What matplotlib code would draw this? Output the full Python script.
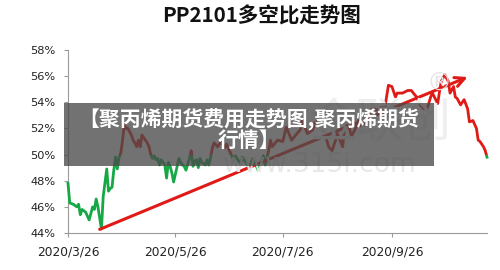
import datetime as dt
import matplotlib
matplotlib.use("Agg")
import matplotlib.pyplot as plt
import matplotlib.dates as mdates
from matplotlib.patches import Rectangle
from matplotlib.ticker import FuncFormatter

plt.rcParams["font.family"] = ["DejaVu Sans", "Noto Sans CJK SC"]

START = dt.date(2020, 3, 26)
# calendar-day offsets from START and long/short ratio (%)
days = [0, 1, 3, 5, 6, 7, 8, 10, 11, 12, 14, 15, 16, 17, 19, 20, 22, 23, 24, 25,
        26, 27, 28, 29, 30, 31, 32, 33, 34, 36, 37, 38, 39, 40, 41, 42, 44, 45, 46, 47,
        48, 49, 50, 51, 52, 53, 55, 56, 57, 58, 59, 60, 62, 63, 64, 65, 66, 67, 69, 70,
        71, 72, 73, 74, 75, 76, 78, 79, 80, 81, 82, 83, 85, 87, 89, 90, 92, 94, 95, 98,
        99, 101, 103, 105, 108, 111, 112, 114, 115, 116, 119, 122, 124, 127, 130, 132, 133, 136, 139, 140,
        142, 144, 146, 148, 150, 152, 153, 156, 157, 159, 161, 163, 165, 167, 169, 170, 173, 175, 178, 180,
        182, 184, 186, 187, 190, 193, 195, 198, 200, 202, 204, 206, 207, 210, 211, 212, 214, 216, 217, 219,
        220, 221, 223, 225, 227, 228, 230, 232, 233, 234, 236, 237, 238]
ratio = [47.8, 46.3, 46.2, 46.0, 46.2, 45.4, 45.8, 45.6, 45.3, 45.0, 46.0, 45.8, 46.6, 46.0, 44.3, 46.8, 48.9, 47.2, 47.4, 47.5,
         48.8, 49.8, 48.9, 49.8, 50.1, 51.1, 52.3, 52.0, 52.0, 51.5, 51.1, 50.9, 50.6, 51.1, 50.6, 51.5, 51.1, 50.9, 50.6, 50.0,
         49.7, 49.9, 49.6, 49.7, 49.2, 49.6, 49.2, 48.2, 49.4, 49.1, 48.6, 47.9, 49.1, 49.7, 49.4, 49.2, 49.1, 48.8, 49.7, 50.3,
         49.1, 49.5, 49.6, 49.0, 49.7, 49.4, 49.2, 49.6, 49.2, 49.8, 50.5, 50.9, 50.6, 51.0, 50.5, 50.8, 50.2, 49.6, 49.9, 49.3,
         49.8, 49.4, 49.0, 49.7, 48.8, 49.9, 49.2, 50.3, 51.1, 50.6, 51.1, 51.0, 52.1, 51.1, 51.6, 51.9, 52.6, 51.6, 51.9, 52.4,
         52.6, 52.1, 51.6, 50.6, 50.3, 51.1, 51.6, 50.6, 51.9, 52.4, 51.4, 51.9, 52.6, 52.1, 52.6, 52.8, 53.6, 53.4, 53.6, 53.6,
         55.3, 55.2, 54.4, 54.7, 54.7, 54.9, 54.9, 54.4, 53.8, 53.5, 53.5, 54.4, 54.7, 53.9, 54.8, 55.6, 56.1, 55.6, 54.7, 55.2,
         54.4, 54.3, 53.8, 54.2, 53.5, 52.5, 52.6, 52.0, 51.1, 51.0, 50.6, 50.3, 49.8]
trend_days = [18, 227]
trend_vals = [44.28, 55.93]
x_ticks = ["2020-03-26", "2020-05-26", "2020-07-26", "2020-09-26"]
y_ticks = [44, 46, 48, 50, 52, 54, 56, 58]

RED = "#e01a16"
GREEN = "#17a846"
AXIS = "#9a9a9a"


def to_date(d):
    return START + dt.timedelta(days=d)


def main():
    fig = plt.figure(figsize=(5.0, 2.7), dpi=100)
    ax = fig.add_axes([0.136, 0.137, 0.838, 0.678])

    dates = [to_date(d) for d in days]

    # watermark
    fig.text(0.64, 0.39, "www.315i.com", fontsize=19, color="#e8e8e8", ha="center", va="center", zorder=0)
    fig.text(0.76, 0.54, "金联创", fontsize=34, color="#eeeeee", ha="center", va="center",
             family=["Noto Sans CJK SC"], zorder=0)
    fig.text(0.878, 0.69, "®", fontsize=18, color="#e4e4e4", ha="center", va="center", zorder=0)

    # above 50% red, below green
    red_line, = ax.plot(dates, ratio, color=RED, linewidth=2.0, zorder=3)
    green_line, = ax.plot(dates, ratio, color=GREEN, linewidth=2.0, zorder=3)
    big = 1e6
    red_clip = Rectangle((-big, 50), 2 * big, big, transform=ax.transData)
    green_clip = Rectangle((-big, 50 - big), 2 * big, big, transform=ax.transData)
    red_line.set_clip_path(red_clip)
    green_line.set_clip_path(green_clip)

    t0, t1 = to_date(trend_days[0]), to_date(trend_days[1])
    ax.annotate("", xy=(mdates.date2num(t1), trend_vals[1]), xytext=(mdates.date2num(t0), trend_vals[0]),
                arrowprops=dict(arrowstyle="->", color=RED, lw=2.2, mutation_scale=17,
                                shrinkA=0, shrinkB=0), zorder=4)

    ax.set_ylim(44, 58)
    ax.set_yticks(y_ticks)
    ax.yaxis.set_major_formatter(FuncFormatter(lambda v, p: f"{v:.0f}%"))
    ax.set_xlim(mdates.date2num(START), mdates.date2num(to_date(238.5)))
    ax.set_xticks([mdates.date2num(dt.date.fromisoformat(s)) for s in x_ticks])
    ax.xaxis.set_major_formatter(mdates.DateFormatter("%Y/%-m/%-d"))

    ax.patch.set_alpha(0)
    for s in ["top", "right"]:
        ax.spines[s].set_visible(False)
    for s in ["left", "bottom"]:
        ax.spines[s].set_color(AXIS)
        ax.spines[s].set_linewidth(0.8)
    ax.tick_params(axis="both", colors=AXIS, length=3, width=0.8, labelcolor="#222222")
    ax.tick_params(axis="y", labelsize=8.2, pad=6)
    ax.tick_params(axis="x", labelsize=8.8, pad=6)

    fig.text(0.522, 0.94, "PP2101多空比走势图", fontsize=14.8, fontweight="bold", ha="center", va="center",
             family=["Noto Sans CJK SC"], color="#111111")

    # overlay banner
    fig.patches.append(Rectangle((0.128, 0.385), 0.74, 0.233, transform=fig.transFigure,
                                 facecolor="#4a4a4a", alpha=0.78, edgecolor="none", zorder=10))
    fig.text(0.497, 0.52, "【聚丙烯期货费用走势图,聚丙烯期货\n行情】", fontsize=15, fontweight="bold",
             color="white", ha="center", va="center", multialignment="center", linespacing=0.95,
             family=["Noto Sans CJK SC"], zorder=11)

    fig.savefig("out.png", dpi=100)


if __name__ == "__main__":
    main()
